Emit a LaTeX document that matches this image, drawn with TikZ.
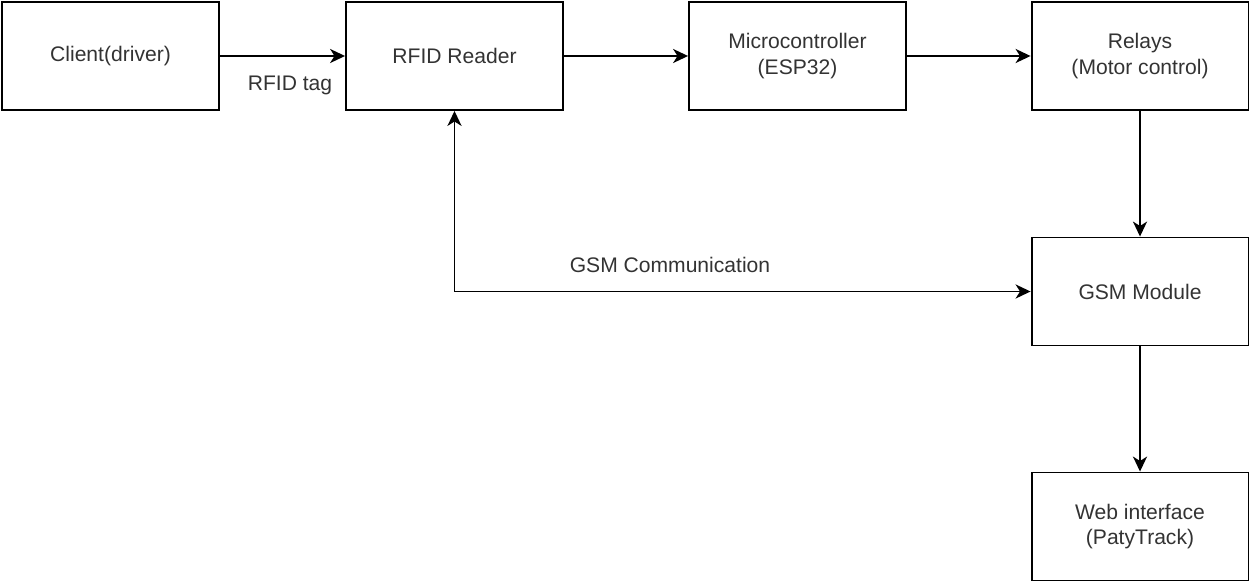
\documentclass[tikz,border=0pt]{standalone}
\usepackage{fontspec}
\setmainfont{Liberation Sans}
\usetikzlibrary{arrows.meta,positioning}
\definecolor{boxtext}{RGB}{51,51,51}

\begin{document}
\begin{tikzpicture}[x=0.02cm,y=-0.02cm,
    block/.style={draw=black, line width=1.1pt, minimum width=4.34cm, minimum height=2.16cm,
                  align=center, font=\fontsize{12}{14.5}\selectfont, text=boxtext, inner sep=0pt},
    flow/.style={line width=1.1pt, -{Stealth[length=8.5pt,width=8pt,inset=2.5pt]}},
    lbl/.style={font=\fontsize{12}{14.5}\selectfont, text=boxtext}]
    \useasboundingbox (0,0) rectangle (1250,584);
    \node[block] (client) at (110.5,56) {Client(driver)};
    \node[block] (rfid) at (454.5,56) {RFID Reader};
    \node[block] (mcu) at (797.5,56) {Microcontroller\\(ESP32)};
    \node[block] (relays) at (1140,56) {Relays\\(Motor control)};
    \node[block] (gsm) at (1140,291.5) {GSM Module};
    \node[block] (web) at (1140,526.5) {Web interface\\(PatyTrack)};
    \draw[flow] (client) -- (rfid);
    \node[lbl] (tag) at (290,85) {RFID tag};
    \draw[flow] (rfid) -- (mcu);
    \draw[flow] (mcu) -- (relays);
    \draw[flow] (relays) -- (gsm);
    \draw[flow] (gsm) -- (web);
    \draw[flow, {Stealth[length=8.5pt,width=8pt,inset=2.5pt]}-{Stealth[length=8.5pt,width=8pt,inset=2.5pt]}] (rfid.south) |- (gsm.west);
    \node[lbl] (gsmcom) at (670,265) {GSM Communication};
  \end{tikzpicture}
\end{document}
